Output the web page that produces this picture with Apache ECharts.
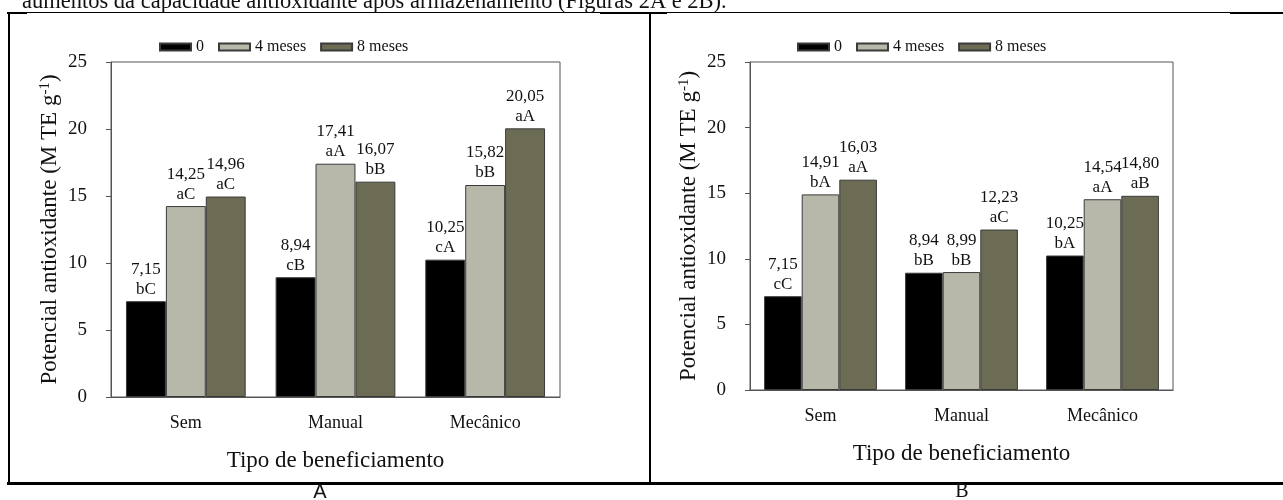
<!DOCTYPE html>
<html>
<head>
<meta charset="utf-8">
<script src="https://cdn.jsdelivr.net/npm/echarts@6/dist/echarts.min.js"></script>
<style>
html,body{margin:0;padding:0;background:#fff;}
#chart{width:1283px;height:500px;}
</style>
</head>
<body>
<div id="chart"></div>
<script>
// ---- data ----
const categories = ['Sem', 'Manual', 'Mecânico'];
const seriesNames = ['0', '4 meses', '8 meses'];
const yTicks = [0, 5, 10, 15, 20, 25];

const valuesA0 = [7.15, 8.94, 10.25];
const valuesA4 = [14.25, 17.41, 15.82];
const valuesA8 = [14.96, 16.07, 20.05];
const lettersA0 = ['bC', 'cB', 'cA'];
const lettersA4 = ['aC', 'aA', 'bB'];
const lettersA8 = ['aC', 'bB', 'aA'];

const valuesB0 = [7.15, 8.94, 10.25];
const valuesB4 = [14.91, 8.99, 14.54];
const valuesB8 = [16.03, 12.23, 14.80];
const lettersB0 = ['cC', 'bB', 'bA'];
const lettersB4 = ['bA', 'bB', 'aA'];
const lettersB8 = ['aA', 'aC', 'aB'];

const topText = 'aumentos da capacidade antioxidante após armazenamento (Figuras 2A e 2B).';
const xName = 'Tipo de beneficiamento';
const panelLetters = ['A', 'B'];

// ---- style ----
const SERIF = '"Liberation Serif", "Times New Roman", serif';
const colors = ['#000000', '#b8b8aa', '#6c6c55'];
const axisColor = '#555555';

const chart = echarts.init(document.getElementById('chart'), null, {renderer: 'canvas'});

function fmt(v) { return v.toFixed(2).replace('.', ','); }

function makeSeries(values, letters, idx, gridIdx) {
  return {
    type: 'bar',
    name: seriesNames[idx],
    xAxisIndex: gridIdx,
    yAxisIndex: gridIdx,
    data: values,
    barGap: '0%',
    barCategoryGap: '20%',
    itemStyle: {color: colors[idx], borderColor: '#3a3a3a', borderWidth: 1},
    label: {
      show: true,
      position: 'top',
      distance: 2,
      color: '#111',
      fontFamily: SERIF,
      fontSize: 17,
      lineHeight: 20,
      formatter: p => fmt(p.value) + '\n' + letters[p.dataIndex]
    },
    emphasis: {disabled: true},
    animation: false
  };
}

function makeX(gridIdx) {
  return {
    type: 'category',
    gridIndex: gridIdx,
    data: categories,
    axisLine: {lineStyle: {color: axisColor, width: 1}},
    axisTick: {alignWithLabel: true, length: 6, lineStyle: {color: axisColor}},
    axisLabel: {color: '#111', fontFamily: SERIF, fontSize: 18, margin: 17},
    name: xName,
    nameLocation: 'middle',
    nameGap: 52,
    nameTextStyle: {color: '#111', fontFamily: SERIF, fontSize: 23}
  };
}

function makeY(gridIdx) {
  return {
    type: 'value',
    gridIndex: gridIdx,
    min: yTicks[0],
    max: yTicks[yTicks.length - 1],
    interval: yTicks[1] - yTicks[0],
    splitLine: {show: false},
    axisLine: {show: true, lineStyle: {color: axisColor, width: 1}},
    axisTick: {show: true, length: 5, lineStyle: {color: axisColor}},
    axisLabel: {color: '#111', fontFamily: SERIF, fontSize: 19, margin: 24},
    name: 'Potencial antioxidante (M TE g{sup|-1})',
    nameLocation: 'middle',
    nameRotate: 90,
    nameGap: 50,
    nameTextStyle: {
      color: '#111', fontFamily: SERIF, fontSize: 23,
      rich: {sup: {fontFamily: SERIF, fontSize: 15, verticalAlign: 'top', lineHeight: 15, padding: [0, 0, 11, 0], color: '#111'}}
    }
  };
}

function legend(left) {
  return {
    left: left,
    top: 34,
    itemWidth: 31,
    itemHeight: 7,
    itemGap: 14,
    icon: 'rect',
    data: seriesNames,
    textStyle: {color: '#111', fontFamily: SERIF, fontSize: 16},
    selectedMode: false
  };
}

const option = {
  animation: false,
  backgroundColor: '#ffffff',
  legend: [legend(154), legend(792)],
  grid: [
    {left: 111, top: 62, width: 449, height: 335, show: true, borderColor: axisColor, borderWidth: 1, backgroundColor: 'transparent'},
    {left: 750, top: 62, width: 423, height: 328, show: true, borderColor: axisColor, borderWidth: 1, backgroundColor: 'transparent'}
  ],
  xAxis: [makeX(0), makeX(1)],
  yAxis: [makeY(0), makeY(1)],
  series: [
    makeSeries(valuesA0, lettersA0, 0, 0),
    makeSeries(valuesA4, lettersA4, 1, 0),
    makeSeries(valuesA8, lettersA8, 2, 0),
    makeSeries(valuesB0, lettersB0, 0, 1),
    makeSeries(valuesB4, lettersB4, 1, 1),
    makeSeries(valuesB8, lettersB8, 2, 1)
  ],
  graphic: [
    {type: 'text', silent: true, x: 22, y: 14, style: {text: topText, font: '22.5px ' + SERIF, fill: '#111', textVerticalAlign: 'bottom'}},
    {type: 'line', silent: true, shape: {x1: 7, y1: 12.5, x2: 1283, y2: 12.5}, style: {stroke: '#000', lineWidth: 1}},
    {type: 'line', silent: true, shape: {x1: 7, y1: 13, x2: 27, y2: 13}, style: {stroke: '#000', lineWidth: 2}},
    {type: 'line', silent: true, shape: {x1: 600, y1: 13, x2: 667, y2: 13}, style: {stroke: '#000', lineWidth: 2}},
    {type: 'line', silent: true, shape: {x1: 1230, y1: 13, x2: 1283, y2: 13}, style: {stroke: '#000', lineWidth: 2}},
    {type: 'line', silent: true, shape: {x1: 9, y1: 12, x2: 9, y2: 484}, style: {stroke: '#000', lineWidth: 2}},
    {type: 'line', silent: true, shape: {x1: 650, y1: 12, x2: 650, y2: 484}, style: {stroke: '#000', lineWidth: 2}},
    {type: 'line', silent: true, shape: {x1: 7, y1: 483.5, x2: 1283, y2: 483.5}, style: {stroke: '#000', lineWidth: 3}},
    {type: 'text', silent: true, x: 320, y: 492, style: {text: panelLetters[0], font: '20px "Liberation Sans", Arial, sans-serif', fill: '#111', textAlign: 'center', textVerticalAlign: 'middle'}},
    {type: 'text', silent: true, x: 962, y: 492, style: {text: panelLetters[1], font: '20px ' + SERIF, fill: '#111', textAlign: 'center', textVerticalAlign: 'middle'}}
  ]
};
chart.setOption(option);
</script>
</body>
</html>
